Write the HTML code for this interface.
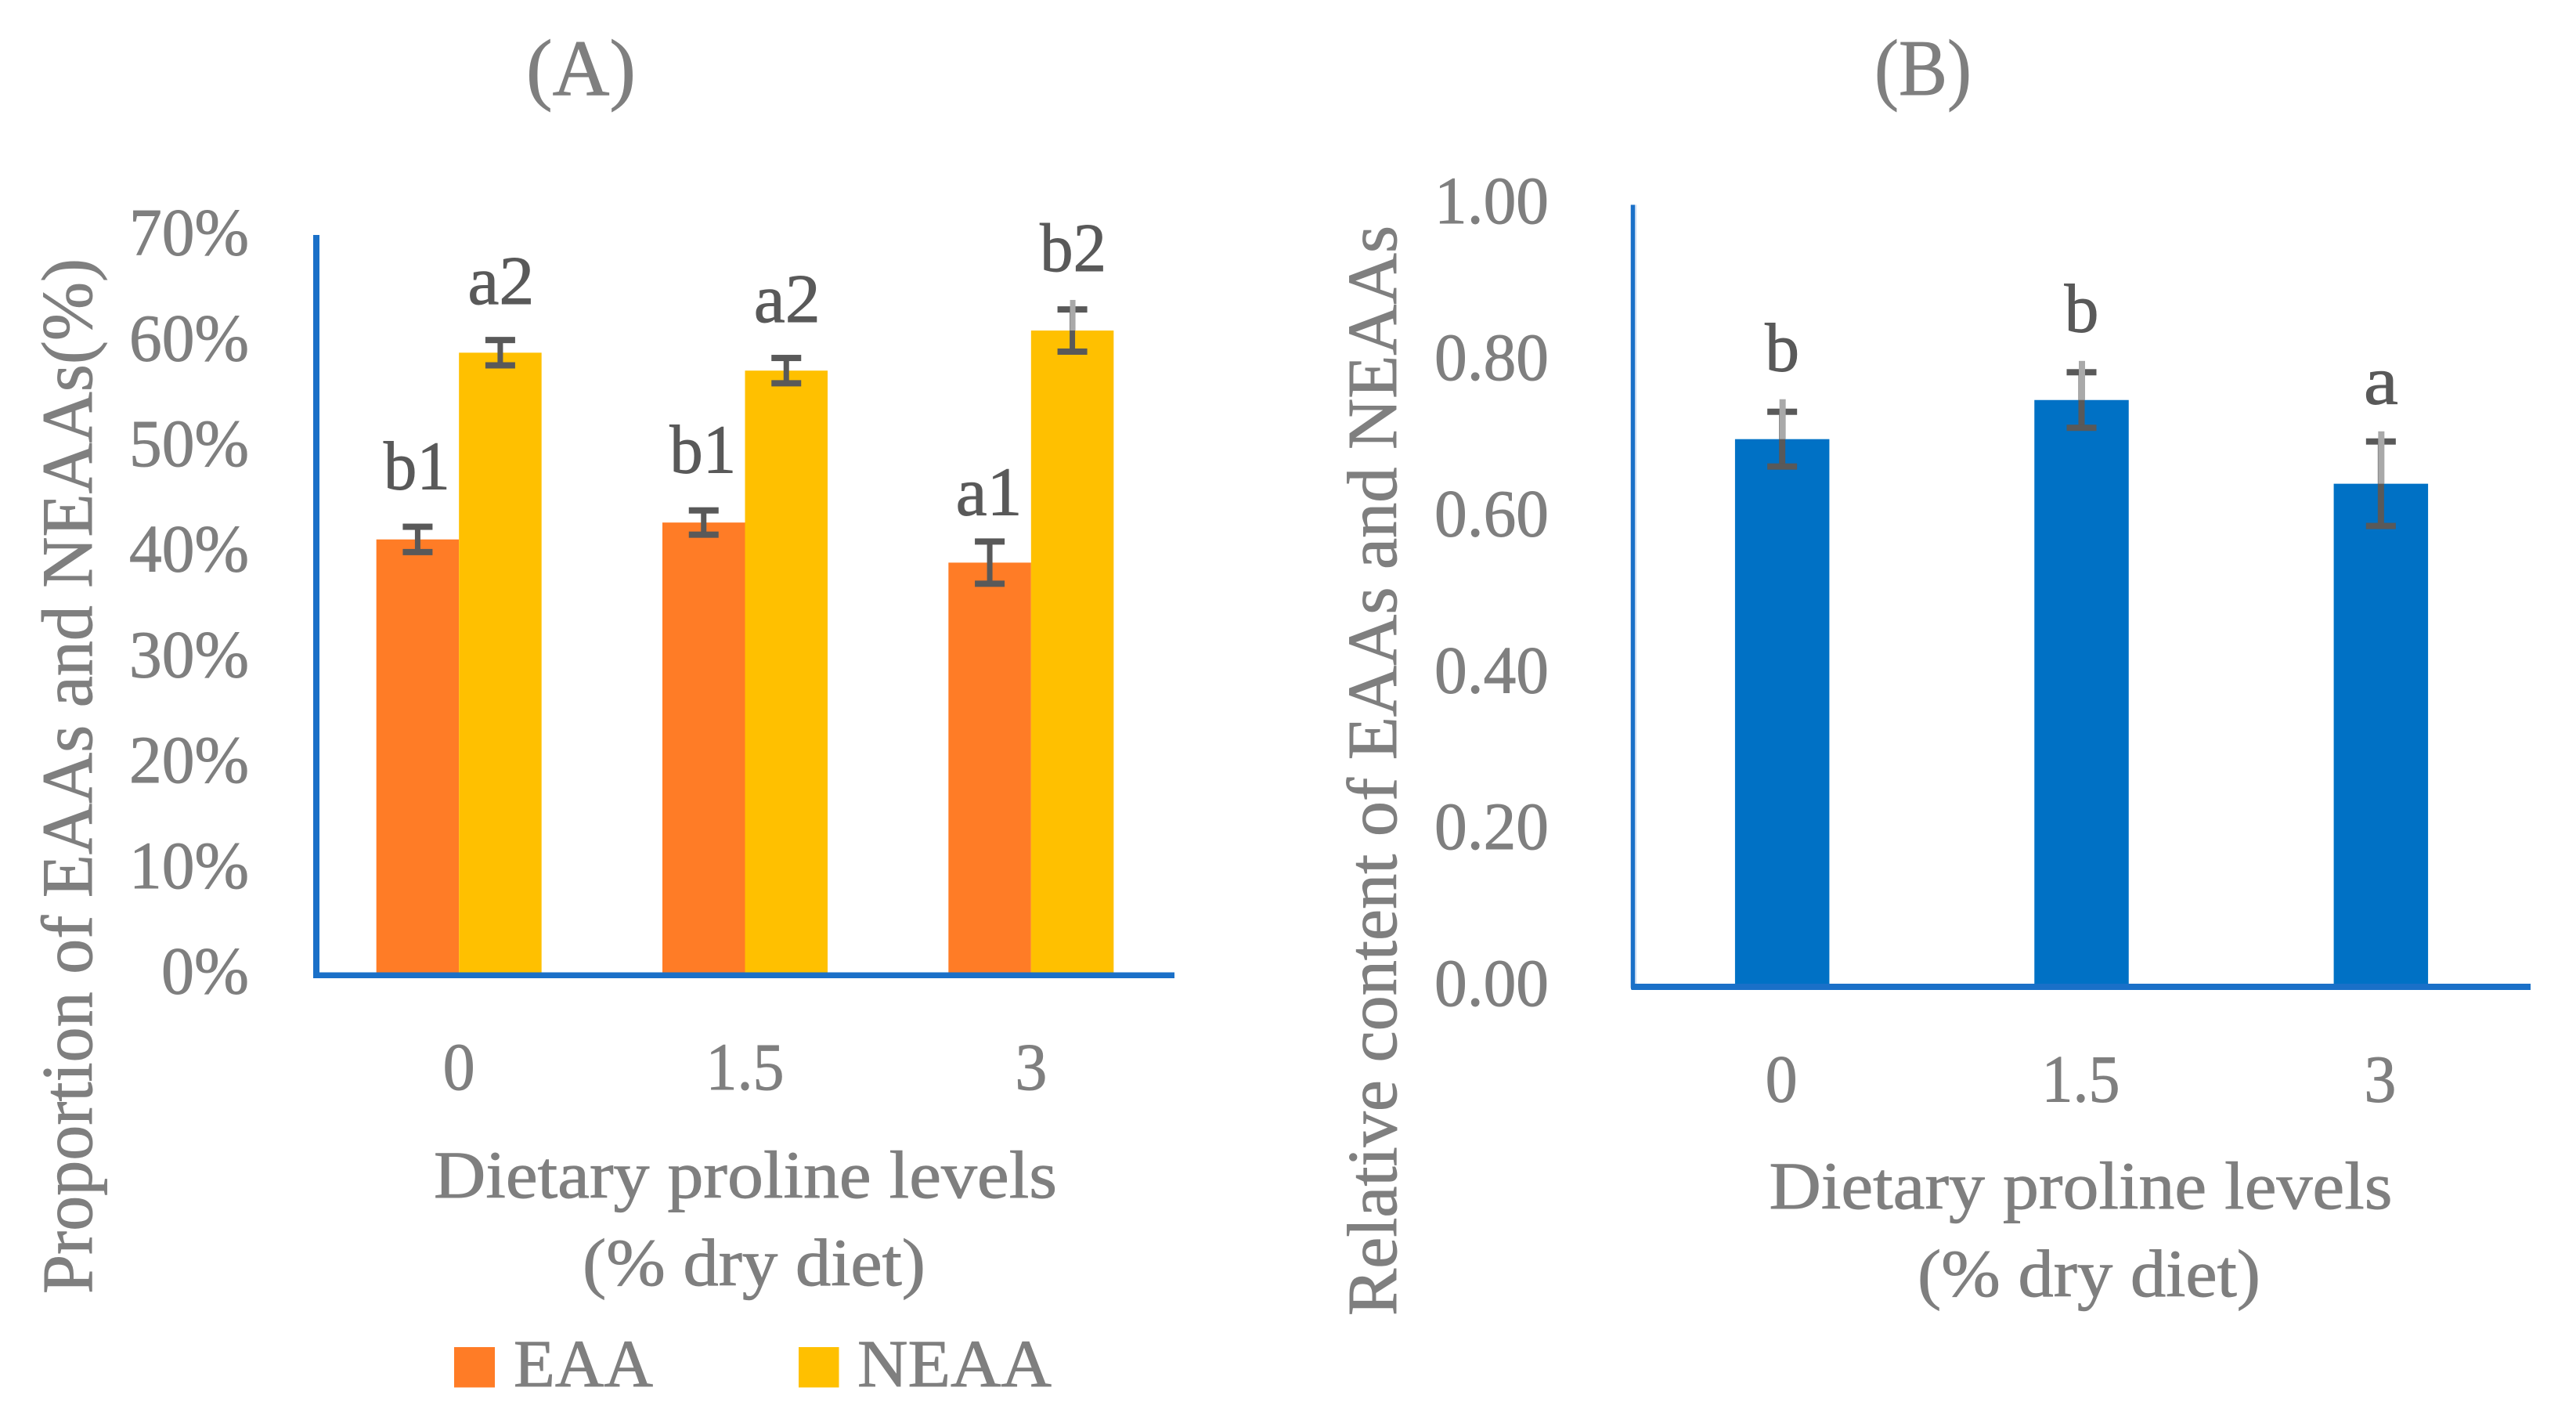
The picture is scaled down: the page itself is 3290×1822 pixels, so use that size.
<!DOCTYPE html>
<html lang="en">
<head>
<meta charset="utf-8">
<title>Proportion and relative content of EAAs and NEAAs</title>
<style>
html,body{margin:0;padding:0;background:#fff;width:3290px;height:1822px;overflow:hidden}
svg{display:block}
text{font-family:"Liberation Serif","DejaVu Serif",serif;fill:#7f7f7f;stroke:#7f7f7f;stroke-width:0.9px}
</style>
</head>
<body>
<svg id="figure" xmlns="http://www.w3.org/2000/svg" width="3290" height="1822" viewBox="0 0 3290 1822">
  <rect x="0" y="0" width="3290" height="1822" fill="#ffffff"/>

  <g id="panel-a">
    <text x="742" y="121" font-size="102" text-anchor="middle" textLength="140" lengthAdjust="spacingAndGlyphs">(A)</text>
    <text transform="translate(117,1652) rotate(-90)" font-size="92" textLength="1322" lengthAdjust="spacingAndGlyphs">Proportion of EAAs and NEAAs(%)</text>
    <text x="952" y="1529" font-size="86" text-anchor="middle" textLength="796" lengthAdjust="spacingAndGlyphs">Dietary proline levels</text>
    <text x="963" y="1641" font-size="86" text-anchor="middle" textLength="438" lengthAdjust="spacingAndGlyphs">(% dry diet)</text>
    <g>
      <rect x="580" y="1720" width="52" height="51.5" fill="#ff7c26"/>
      <text x="656" y="1770" font-size="86" textLength="178" lengthAdjust="spacingAndGlyphs">EAA</text>
      <rect x="1020" y="1720" width="51.5" height="51.5" fill="#ffc000"/>
      <text x="1095" y="1770" font-size="86" textLength="248" lengthAdjust="spacingAndGlyphs">NEAA</text>
    </g>
  </g>

  <g id="panel-b">
    <text x="2456" y="121" font-size="102" text-anchor="middle" textLength="124" lengthAdjust="spacingAndGlyphs">(B)</text>
    <text transform="translate(1783,1680) rotate(-90)" font-size="90" textLength="1392" lengthAdjust="spacingAndGlyphs">Relative content of EAAs and NEAAs</text>
    <text x="2657.5" y="1543" font-size="86" text-anchor="middle" textLength="796" lengthAdjust="spacingAndGlyphs">Dietary proline levels</text>
    <text x="2668" y="1655" font-size="86" text-anchor="middle" textLength="438" lengthAdjust="spacingAndGlyphs">(% dry diet)</text>
  </g>
</svg>

<script>
const categories = ['0', '1.5', '3'];

const proportionTicks = [0, 10, 20, 30, 40, 50, 60, 70];
const eaaValues = [41.0, 42.6, 38.8];
const neaaValues = [58.7, 57.0, 60.8];
const eaaErrors = [1.2, 1.15, 2.0];
const neaaErrors = [1.2, 1.2, 2.0];
const eaaLabels = ['b1', 'b1', 'a1'];
const neaaLabels = ['a2', 'a2', 'b2'];
const neaaWhiskerTops = [null, null, 63.7];

const ratioTicks = [0, 0.2, 0.4, 0.6, 0.8, 1];
const ratioValues = [0.696, 0.746, 0.639];
const ratioErrors = [0.035, 0.0355, 0.054];
const ratioLabels = ['b', 'b', 'a'];
const ratioWhiskerTops = [0.747, 0.796, 0.706];

const SVG_NS = 'http://www.w3.org/2000/svg';
const panelA = document.getElementById('panel-a');
const panelB = document.getElementById('panel-b');

const xA = i => 403.5 + (i + 0.5) * 1096 / 3;
const yA = v => 1241 - v * 13.47;
const xB = i => 2085 + (i + 0.5) * 1147 / 3;
const yB = v => 1256 - v * 999;

function make(tag, attrs, parent, content) {
  const el = document.createElementNS(SVG_NS, tag);
  for (const key in attrs) el.setAttribute(key, attrs[key]);
  if (content !== undefined) el.textContent = content;
  parent.appendChild(el);
  return el;
}

function drawBar(parent, name, cx, width, top, base, color) {
  const el = make('rect', {x: cx - width / 2, y: top, width: width, height: base - top, fill: color}, parent);
  
  
}

function drawError(parent, name, cx, upper, lower, barTop, whiskerTop, lineWidth) {
  const g = make('g', {}, parent);
  
  
  make('rect', {x: cx - lineWidth / 2, y: upper, width: lineWidth, height: lower - upper, fill: '#595959'}, g);
  make('rect', {x: cx - 19, y: upper - 4, width: 38, height: 8, fill: '#595959'}, g);
  make('rect', {x: cx - 19, y: lower - 4, width: 38, height: 8, fill: '#595959'}, g);
  if (whiskerTop !== null) {
    make('rect', {x: cx - lineWidth / 2 + 0.5, y: whiskerTop, width: lineWidth, height: barTop - whiskerTop, fill: '#a9a9a9'}, g);
  }
}

function drawDataLabel(parent, name, cx, baseline, label, width) {
  const el = make('text', {x: cx, y: baseline, 'font-size': 88, 'text-anchor': 'middle', textLength: width, lengthAdjust: 'spacingAndGlyphs', style: 'fill:#595959;stroke:#595959'}, parent, label);
  
  
}

function drawTick(parent, name, x, baseline, label, width, anchor) {
  const el = make('text', {x: x, y: baseline, 'font-size': 86, 'text-anchor': anchor, textLength: width, lengthAdjust: 'spacingAndGlyphs'}, parent, label);
  
  
}

/* Panel A */
proportionTicks.forEach(t => {
  const label = t + '%';
  drawTick(panelA, 'panel-a-y-tick-' + t, 318, yA(t) + 27.5, label, label.length === 3 ? 153 : 112, 'end');
});

categories.forEach((c, i) => {
  const cx = xA(i);
  const eaaX = cx - 52.75;
  const neaaX = cx + 52.75;
  drawBar(panelA, 'bar-eaa-' + c, eaaX, 105.5, yA(eaaValues[i]), 1242, '#ff7c26');
  drawBar(panelA, 'bar-neaa-' + c, neaaX, 105.5, yA(neaaValues[i]), 1242, '#ffc000');
  drawError(panelA, 'error-bar-eaa-' + c, eaaX, yA(eaaValues[i] + eaaErrors[i]), yA(eaaValues[i] - eaaErrors[i]), yA(eaaValues[i]), null, 7);
  const neaaTop = neaaWhiskerTops[i] === null ? null : yA(neaaWhiskerTops[i]);
  drawError(panelA, 'error-bar-neaa-' + c, neaaX, yA(neaaValues[i] + neaaErrors[i]), yA(neaaValues[i] - neaaErrors[i]), yA(neaaValues[i]), neaaTop, 7);
  const eaaRaise = eaaLabels[i] === 'a1' ? 34 : 48;
  const neaaRaise = neaaLabels[i] === 'b2' ? 49 : 46;
  drawDataLabel(panelA, 'data-label-eaa-' + c, eaaX - 1, yA(eaaValues[i] + eaaErrors[i]) - eaaRaise, eaaLabels[i], 85);
  drawDataLabel(panelA, 'data-label-neaa-' + c, neaaX + 1, yA(neaaValues[i] + neaaErrors[i]) - neaaRaise, neaaLabels[i], 85);
  drawTick(panelA, 'panel-a-x-tick-' + c, cx, 1391, c, c.length === 3 ? 100 : 41, 'middle');
});

const axisAY = make('rect', {x: 400, y: 300, width: 8, height: 949, fill: '#1a70c8'}, panelA);


const axisAX = make('rect', {x: 404, y: 1241.5, width: 1096, height: 7.5, fill: '#1a70c8'}, panelA);



/* Panel B */
ratioTicks.forEach(t => {
  const label = t.toFixed(2);
  drawTick(panelB, 'panel-b-y-tick-' + label, 1978, yB(t) + 28, label, 146, 'end');
});

categories.forEach((c, i) => {
  const cx = xB(i);
  drawBar(panelB, 'bar-ratio-' + c, cx, 120.5, yB(ratioValues[i]), 1257, '#0071c5');
  drawError(panelB, 'error-bar-ratio-' + c, cx, yB(ratioValues[i] + ratioErrors[i]), yB(ratioValues[i] - ratioErrors[i]), yB(ratioValues[i]), yB(ratioWhiskerTops[i]), 8);
  const ratioRaise = ratioLabels[i] === 'a' ? 48 : 52;
  drawDataLabel(panelB, 'data-label-ratio-' + c, cx, yB(ratioValues[i] + ratioErrors[i]) - ratioRaise, ratioLabels[i], 44);
  drawTick(panelB, 'panel-b-x-tick-' + c, cx - 1, 1406.5, c, c.length === 3 ? 100 : 41, 'middle');
});

const axisBHalo = make('rect', {x: 2082, y: 261.5, width: 8, height: 1000, fill: '#c3d7f1'}, panelB);


const axisBY = make('rect', {x: 2083, y: 261.5, width: 5, height: 1002, fill: '#1a70c8'}, panelB);


const axisBX = make('rect', {x: 2084, y: 1256, width: 1148, height: 8, fill: '#1a70c8'}, panelB);


</script>
</body>
</html>
